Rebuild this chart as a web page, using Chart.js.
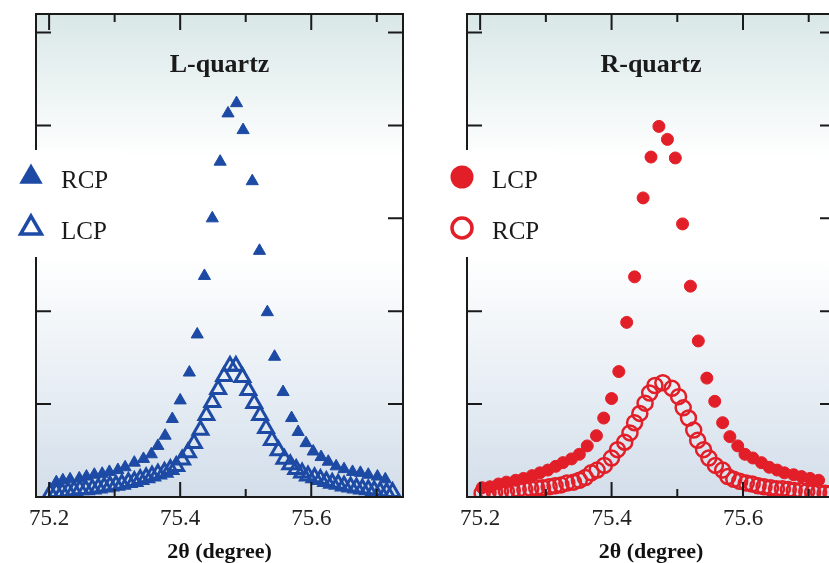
<!DOCTYPE html>
<html>
<head>
<meta charset="utf-8">
<script src="https://cdn.jsdelivr.net/npm/chart.js@4.4.1/dist/chart.umd.min.js"></script>
<style>
    html, body { margin: 0; padding: 0; background: #fff; overflow: hidden; width: 829px; height: 563px; }
    .panel { position: absolute; top: 0; }
    #lq { left: 0; }
    #rq { left: 430px; }
</style>
</head>
<body>
<canvas id="lq" class="panel" width="430" height="563"></canvas>
<canvas id="rq" class="panel" width="430" height="563"></canvas>
<script>
// Axis setup (2theta in degree, intensity in arbitrary units)
const xMin = 75.18;
const xMax = 75.74;
const yMin = 0;
const yMax = 5.2;
const xTickLabels = ['75.2', '75.4', '75.6'];
const yTickValues = [1, 2, 3, 4, 5];

// L-quartz, RCP (filled triangles)
const lqRcpX = [75.211, 75.221, 75.232, 75.246, 75.257, 75.269, 75.281, 75.292, 75.305, 75.316,
    75.330, 75.344, 75.356, 75.366, 75.377, 75.388, 75.400, 75.414, 75.426, 75.437,
    75.449, 75.461, 75.473, 75.486, 75.496, 75.510, 75.521, 75.533, 75.544, 75.557,
    75.570, 75.580, 75.592, 75.603, 75.615, 75.626, 75.638, 75.650, 75.663, 75.675,
    75.687, 75.701, 75.713];
const lqRcpY = [0.16, 0.18, 0.19, 0.20, 0.22, 0.24, 0.25, 0.27, 0.29, 0.32,
    0.37, 0.41, 0.46, 0.55, 0.66, 0.84, 1.04, 1.34, 1.75, 2.38,
    3.00, 3.61, 4.13, 4.24, 3.95, 3.40, 2.65, 1.99, 1.51, 1.13,
    0.85, 0.70, 0.58, 0.49, 0.43, 0.38, 0.33, 0.30, 0.27, 0.26,
    0.24, 0.22, 0.19];

// L-quartz, LCP (open triangles)
const lqLcpX = [75.202, 75.211, 75.220, 75.229, 75.238, 75.247, 75.256, 75.266, 75.275, 75.284,
    75.293, 75.302, 75.311, 75.321, 75.330, 75.339, 75.348, 75.357, 75.366, 75.376,
    75.385, 75.394, 75.403, 75.412, 75.421, 75.431, 75.440, 75.449, 75.458, 75.467,
    75.476, 75.485, 75.495, 75.504, 75.513, 75.522, 75.531, 75.540, 75.550, 75.559,
    75.568, 75.577, 75.586, 75.595, 75.605, 75.614, 75.623, 75.632, 75.641, 75.650,
    75.660, 75.669, 75.678, 75.687, 75.696, 75.705, 75.715, 75.724];
const lqLcpY = [0.04, 0.05, 0.05, 0.06, 0.07, 0.08, 0.08, 0.09, 0.10, 0.11,
    0.12, 0.13, 0.14, 0.16, 0.17, 0.19, 0.21, 0.23, 0.25, 0.27,
    0.30, 0.33, 0.40, 0.48, 0.58, 0.72, 0.88, 1.02, 1.16, 1.30,
    1.41, 1.41, 1.29, 1.15, 1.01, 0.88, 0.74, 0.61, 0.50, 0.41,
    0.35, 0.30, 0.26, 0.23, 0.21, 0.19, 0.17, 0.15, 0.14, 0.12,
    0.11, 0.10, 0.09, 0.08, 0.07, 0.06, 0.05, 0.05];

// R-quartz, LCP (filled circles)
const rqLcpX = [75.203, 75.215, 75.228, 75.240, 75.254, 75.266, 75.279, 75.291, 75.303, 75.315,
    75.326, 75.339, 75.351, 75.363, 75.377, 75.388, 75.400, 75.411, 75.423, 75.435,
    75.448, 75.460, 75.472, 75.485, 75.497, 75.508, 75.520, 75.532, 75.545, 75.557,
    75.569, 75.580, 75.592, 75.603, 75.615, 75.628, 75.640, 75.652, 75.663, 75.677,
    75.689, 75.702, 75.715];
const rqLcpY = [0.10, 0.11, 0.14, 0.16, 0.18, 0.20, 0.23, 0.26, 0.29, 0.33,
    0.37, 0.41, 0.46, 0.55, 0.66, 0.85, 1.06, 1.35, 1.88, 2.37,
    3.22, 3.66, 3.99, 3.85, 3.65, 2.94, 2.27, 1.68, 1.28, 1.03,
    0.80, 0.65, 0.55, 0.46, 0.42, 0.37, 0.32, 0.29, 0.26, 0.24,
    0.22, 0.20, 0.18];

// R-quartz, RCP (open circles)
const rqRcpX = [75.203, 75.212, 75.222, 75.231, 75.240, 75.249, 75.258, 75.268, 75.277, 75.286,
    75.295, 75.305, 75.314, 75.323, 75.332, 75.342, 75.351, 75.360, 75.369, 75.378,
    75.389, 75.400, 75.409, 75.420, 75.428, 75.435, 75.443, 75.451, 75.458, 75.466,
    75.478, 75.492, 75.502, 75.509, 75.517, 75.525, 75.531, 75.540, 75.548, 75.558,
    75.569, 75.577, 75.586, 75.595, 75.605, 75.614, 75.623, 75.632, 75.642, 75.651,
    75.660, 75.669, 75.678, 75.688, 75.697, 75.706, 75.715, 75.725, 75.734];
const rqRcpY = [0.04, 0.05, 0.05, 0.06, 0.06, 0.07, 0.08, 0.08, 0.09, 0.10,
    0.10, 0.11, 0.12, 0.13, 0.15, 0.16, 0.18, 0.21, 0.26, 0.29,
    0.34, 0.42, 0.51, 0.59, 0.69, 0.80, 0.90, 1.01, 1.12, 1.20,
    1.23, 1.17, 1.08, 0.96, 0.85, 0.72, 0.61, 0.51, 0.42, 0.34,
    0.29, 0.22, 0.19, 0.17, 0.15, 0.14, 0.12, 0.11, 0.10, 0.09,
    0.09, 0.08, 0.07, 0.07, 0.06, 0.05, 0.05, 0.04, 0.04];

const BLUE = '#1c4aa4';
const RED = '#e21f28';
const INK = '#1a1a1a';
const SERIF = '"Liberation Serif", "Times New Roman", Times, serif';

function points(xs, ys) {
    return xs.map((x, i) => ({ x, y: ys[i] }));
}

function tickLabel(value) {
    const s = value.toFixed(1);
    return xTickLabels.includes(s) ? s : '';
}

// Draws one legend marker by hand (legend sits on top of the left axis)
function drawMarker(ctx, shape, filled, color, x, y, r, lw) {
    ctx.beginPath();
    if (shape === 'triangle') {
        for (let k = 0; k < 3; k++) {
            const a = k * 2 * Math.PI / 3;
            const px = x + Math.sin(a) * r;
            const py = y - Math.cos(a) * r;
            if (k === 0) ctx.moveTo(px, py); else ctx.lineTo(px, py);
        }
        ctx.closePath();
    } else {
        ctx.arc(x, y, r, 0, Math.PI * 2);
    }
    if (filled) {
        ctx.fillStyle = color;
        ctx.fill();
    } else {
        ctx.strokeStyle = color;
        ctx.lineWidth = lw;
        ctx.lineJoin = 'miter';
        ctx.stroke();
    }
}

const panelDecor = {
    id: 'panelDecor',
    beforeDraw(chart) {
        const { ctx, chartArea: a } = chart;
        const g = ctx.createLinearGradient(0, a.top, 0, a.bottom);
        g.addColorStop(0, '#d9e7e7');
        g.addColorStop(0.3, '#ffffff');
        g.addColorStop(0.5, '#ffffff');
        g.addColorStop(0.75, '#e9eff5');
        g.addColorStop(1, '#d3deea');
        ctx.save();
        ctx.fillStyle = g;
        ctx.fillRect(a.left, a.top, a.width, a.height);
        ctx.restore();
    },
    afterDraw(chart, args, opts) {
        const { ctx, chartArea: a } = chart;
        const xs = chart.scales.x;
        const ys = chart.scales.y;
        ctx.save();

        // frame
        ctx.strokeStyle = INK;
        ctx.lineWidth = 2;
        ctx.strokeRect(a.left, a.top, a.width, a.height);

        // inward ticks
        ctx.beginPath();
        xs.ticks.forEach(t => {
            const px = xs.getPixelForValue(t.value);
            const major = tickLabel(t.value) !== '';
            ctx.moveTo(px, a.bottom);
            ctx.lineTo(px, a.bottom - (major ? 15 : 8));
            ctx.moveTo(px, a.top);
            ctx.lineTo(px, a.top + (major ? 16 : 8));
        });
        yTickValues.forEach(v => {
            const py = ys.getPixelForValue(v);
            ctx.moveTo(a.left, py);
            ctx.lineTo(a.left + 15, py);
            ctx.moveTo(a.right, py);
            ctx.lineTo(a.right - 15, py);
        });
        ctx.stroke();

        // panel title
        ctx.fillStyle = INK;
        ctx.font = 'bold 26px ' + SERIF;
        ctx.textAlign = 'center';
        ctx.textBaseline = 'alphabetic';
        ctx.fillText(opts.title, (a.left + a.right) / 2, 72);

        // legend on a white box over the left axis
        ctx.fillStyle = '#ffffff';
        ctx.fillRect(a.left - 30, 150, 118, 107);
        opts.legend.forEach((item, i) => {
            const my = 177 + i * 51;
            const big = item.shape === 'triangle' ? 13.5 : 11.5;
            drawMarker(ctx, item.shape, item.filled, item.color, a.left - 5, my, item.filled ? big : big - 1.5, 3.5);
            ctx.fillStyle = INK;
            ctx.font = '25px ' + SERIF;
            ctx.textAlign = 'left';
            ctx.fillText(item.label, a.left + 25, my + 11);
        });
        ctx.restore();
    }
};

function makePanel(canvasId, padLeft, padRight, title, datasets, legend) {
    return new Chart(document.getElementById(canvasId), {
        type: 'scatter',
        data: { datasets },
        options: {
            responsive: false,
            animation: false,
            events: [],
            layout: { padding: { left: padLeft, right: padRight, top: 14, bottom: 0 } },
            scales: {
                x: {
                    type: 'linear',
                    min: xMin,
                    max: xMax,
                    grid: { display: false },
                    border: { display: false },
                    afterFit(scale) { scale.height = 66; },
                    ticks: {
                        stepSize: 0.1,
                        includeBounds: false,
                        autoSkip: false,
                        maxRotation: 0,
                        padding: 0,
                        color: '#222',
                        font: { family: SERIF, size: 23 },
                        callback: value => tickLabel(value)
                    },
                    title: {
                        display: true,
                        text: '2θ (degree)',
                        color: '#111',
                        font: { family: SERIF, size: 22, weight: 'bold', lineHeight: 1 },
                        padding: { top: 0, bottom: 0 }
                    }
                },
                y: {
                    display: false,
                    min: yMin,
                    max: yMax,
                    ticks: { stepSize: 1 }
                }
            },
            plugins: {
                legend: { display: false },
                tooltip: { enabled: false },
                panelDecor: { title, legend }
            }
        },
        plugins: [panelDecor]
    });
}

makePanel('lq', 36, 27, 'L-quartz', [
    {
        label: 'RCP',
        data: points(lqRcpX, lqRcpY),
        pointStyle: 'triangle',
        pointRadius: 7,
        backgroundColor: BLUE,
        borderColor: BLUE,
        borderWidth: 1
    },
    {
        label: 'LCP',
        data: points(lqLcpX, lqLcpY),
        pointStyle: 'triangle',
        pointRadius: 8.5,
        backgroundColor: 'rgba(0,0,0,0)',
        borderColor: BLUE,
        borderWidth: 3
    }
], [
    { label: 'RCP', shape: 'triangle', filled: true, color: BLUE },
    { label: 'LCP', shape: 'triangle', filled: false, color: BLUE }
]);

makePanel('rq', 37, 25, 'R-quartz', [
    {
        label: 'LCP',
        data: points(rqLcpX, rqLcpY),
        pointStyle: 'circle',
        pointRadius: 6,
        backgroundColor: RED,
        borderColor: RED,
        borderWidth: 1
    },
    {
        label: 'RCP',
        data: points(rqRcpX, rqRcpY),
        pointStyle: 'circle',
        pointRadius: 7.5,
        backgroundColor: 'rgba(0,0,0,0)',
        borderColor: RED,
        borderWidth: 2.5
    }
], [
    { label: 'LCP', shape: 'circle', filled: true, color: RED },
    { label: 'RCP', shape: 'circle', filled: false, color: RED }
]);
</script>
</body>
</html>
